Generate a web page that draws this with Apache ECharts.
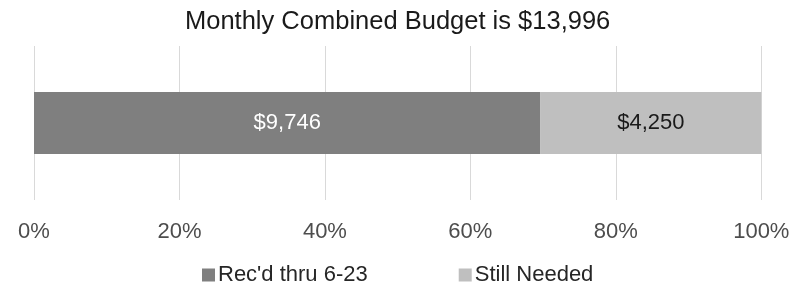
<!DOCTYPE html>
<html>
<head>
<meta charset="utf-8">
<script src="https://cdn.jsdelivr.net/npm/echarts@6/dist/echarts.min.js"></script>
<style>
html,body{margin:0;padding:0;background:#fff;}
#chart{width:807px;height:286px;}
</style>
</head>
<body>
<div id="chart"></div>
<script>
var titleText = 'Monthly Combined Budget is $13,996';
var categories = ['Budget'];
var seriesNames = ["Rec'd thru 6-23", 'Still Needed'];
var receivedValues = [9746];
var neededValues = [4250];
var tickPercents = [0, 20, 40, 60, 80, 100];

var total = receivedValues[0] + neededValues[0];
var FONT = '"Liberation Sans", Arial, sans-serif';

function money(v) { return '$' + v.toLocaleString('en-US'); }

var chart = echarts.init(document.getElementById('chart'), null, {renderer: 'canvas'});
chart.setOption({
  animation: false,
  backgroundColor: '#ffffff',
  title: {
    text: titleText,
    left: 180,
    top: 4,
    textStyle: {fontFamily: FONT, fontSize: 25.5, fontWeight: 'normal', color: '#1a1a1a'}
  },
  legend: {
    data: seriesNames,
    left: 202,
    top: 264,
    padding: 0,
    itemWidth: 13,
    itemHeight: 13,
    itemGap: 91,
    icon: 'rect',
    textStyle: {fontFamily: FONT, fontSize: 22, color: '#262626', padding: [0, 0, 0, -2]}
  },
  grid: {left: 34, right: 45.7, top: 46, bottom: 86, containLabel: false},
  xAxis: {
    type: 'value',
    min: 0,
    max: total,
    interval: total / (tickPercents.length - 1),
    axisLine: {show: false},
    axisTick: {show: false},
    splitLine: {show: true, lineStyle: {color: '#d9d9d9', width: 1}},
    axisLabel: {
      margin: 21,
      fontFamily: FONT,
      fontSize: 22,
      color: '#4d4d4d',
      formatter: function (v) { return Math.round(v / total * 100) + '%'; }
    }
  },
  yAxis: {
    type: 'category',
    data: categories,
    show: false
  },
  series: [
    {
      name: seriesNames[0],
      type: 'bar',
      stack: 'total',
      barWidth: 62,
      data: receivedValues,
      itemStyle: {color: '#7f7f7f'},
      label: {show: true, position: 'inside', fontFamily: FONT, fontSize: 22, color: '#ffffff',
        formatter: function (p) { return money(p.value); }}
    },
    {
      name: seriesNames[1],
      type: 'bar',
      stack: 'total',
      barWidth: 62,
      data: neededValues,
      itemStyle: {color: '#bfbfbf'},
      label: {show: true, position: 'inside', fontFamily: FONT, fontSize: 22, color: '#1a1a1a',
        formatter: function (p) { return money(p.value); }}
    }
  ]
});
</script>
</body>
</html>
